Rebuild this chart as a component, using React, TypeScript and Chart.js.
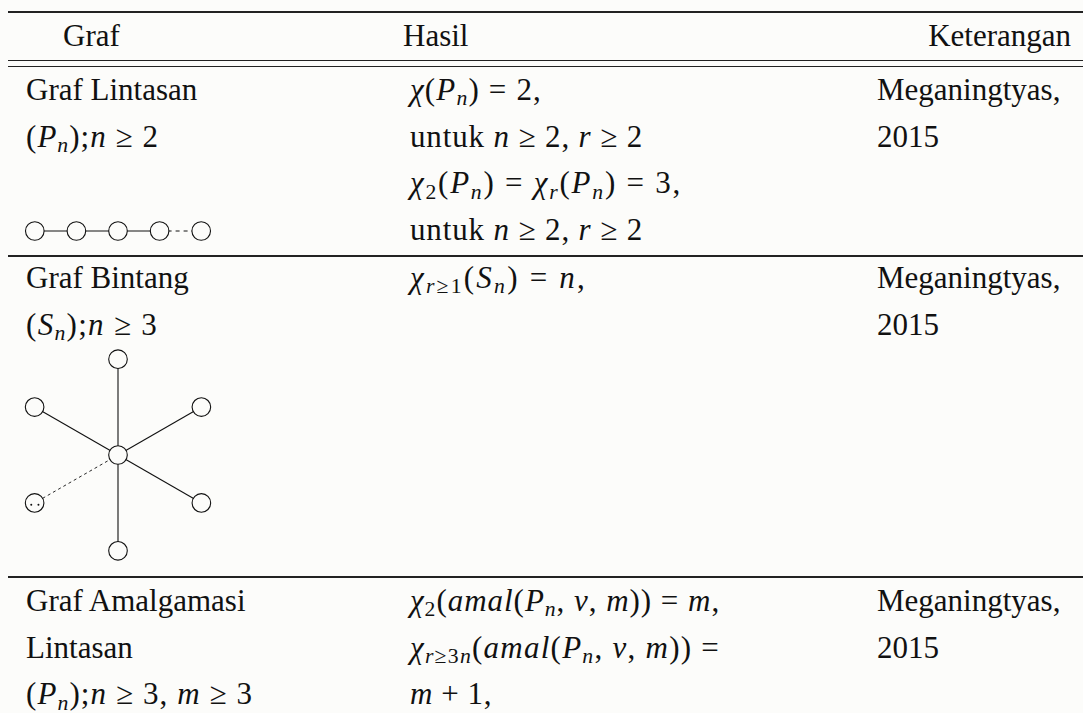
import React, { useEffect, useLayoutEffect, useRef } from 'react';
import { Chart, registerables } from 'chart.js';

Chart.register(...registerables);

// ---------- data ----------
const headerLabels = ['Graf', 'Hasil', 'Keterangan'];

type Seg = [string, string?];
type Line = Seg[];

const grafColumn: Line[][] = [
  [
    [['Graf Lintasan']],
    [['('], ['P', 'i'], ['n', 'si'], [');'], ['n', 'i'], [' ≥ 2']],
  ],
  [
    [['Graf Bintang']],
    [['('], ['S', 'i'], ['n', 'si'], [');'], ['n', 'i'], [' ≥ 3']],
  ],
  [
    [['Graf Amalgamasi']],
    [['Lintasan']],
    [['('], ['P', 'i'], ['n', 'si'], [');'], ['n', 'i'], [' ≥ 3, '], ['m', 'i'], [' ≥ 3']],
  ],
];

const hasilColumn: Line[][] = [
  [
    [['χ', 'i'], ['('], ['P', 'i'], ['n', 'si'], [') = 2,']],
    [['untuk '], ['n', 'i'], [' ≥ 2, '], ['r', 'i'], [' ≥ 2']],
    [['χ', 'i'], ['2', 'sr'], ['('], ['P', 'i'], ['n', 'si'], [') = '], ['χ', 'i'], ['r', 'si'], ['('], ['P', 'i'], ['n', 'si'], [') = 3,']],
    [['untuk '], ['n', 'i'], [' ≥ 2, '], ['r', 'i'], [' ≥ 2']],
  ],
  [
    [['χ', 'i'], ['r', 'si'], ['≥1', 'sr'], ['('], ['S', 'i'], ['n', 'si'], [') = '], ['n', 'i'], [',']],
  ],
  [
    [['χ', 'i'], ['2', 'sr'], ['('], ['amal', 'i'], ['('], ['P', 'i'], ['n', 'si'], [', '], ['v', 'i'], [', '], ['m', 'i'], [')) = '], ['m', 'i'], [',']],
    [['χ', 'i'], ['r', 'si'], ['≥3', 'sr'], ['n', 'si'], ['('], ['amal', 'i'], ['('], ['P', 'i'], ['n', 'si'], [', '], ['v', 'i'], [', '], ['m', 'i'], [')) =']],
    [['m', 'i'], [' + 1,']],
  ],
];

const keteranganColumn: Line[][] = [
  [[['Meganingtyas,']], [['2015']]],
  [[['Meganingtyas,']], [['2015']]],
  [[['Meganingtyas,']], [['2015']]],
];

// path graph P_n (graph units)
const pathNodeX = [1, 2, 3, 4, 5];
const pathNodeY = [0, 0, 0, 0, 0];
const pathEdgeDashed = [false, false, false, true];

// star graph S_n (graph units)
const starCenterX = 0;
const starCenterY = 0;
const starLeafX = [0, -0.87, 0.87, 0.87, 0, -0.87];
const starLeafY = [1, 0.5, 0.5, -0.5, -1, -0.5];
const starLeafDotted = [false, false, false, false, false, true];
const ellipsisDotX = [-0.905, -0.83];
const ellipsisDotY = [-0.52, -0.52];

// ---------- layout ----------
const FONT = '"Liberation Serif", "Times New Roman", serif';
const FS = 31;
const ASC = 26;
const BG = '#fcfcfa';
const INK = '#111';

const headerBaseline = 46;
const headerX = [63, 403];
const headerRight = 12;
const rowBaselines = [
  [100, 146.7, 193.3, 240],
  [288, 334.7],
  [611, 657.7, 704.3],
];
const colX = [26, 410, 877];
const ruleYs = [12, 60, 66, 256, 577];
const ruleW = [1.4, 1, 1, 1.2, 1.4];
// right ends of the math lines (TeX math is set wider than the fallback font)
const lineEnds: Record<string, number> = {
  '0-0-1': 159,
  '0-1-1': 158,
  '0-2-2': 253,
  '1-0-0': 542,
  '1-0-1': 643,
  '1-0-2': 682,
  '1-0-3': 643,
  '1-1-0': 587,
  '1-2-0': 720,
  '1-2-1': 720,
  '1-2-2': 492,
};

function Segs({ segs }: { segs: Line }) {
  return (
    <>
      {segs.map(([t, k], i) => {
        const kind = k || '';
        const italic = kind.includes('i');
        const sub = kind.startsWith('s');
        const style: React.CSSProperties = {
          fontStyle: italic ? 'italic' : 'normal',
        };
        if (sub) {
          style.fontSize = '0.7em';
          style.position = 'relative';
          style.top = '0.24em';
        }
        return (
          <span key={i} style={style}>
            {t}
          </span>
        );
      })}
    </>
  );
}

function TextLine({ x, baseline, segs, right, endX }: { x?: number; baseline: number; segs: Line; right?: number; endX?: number }) {
  const ref = useRef<HTMLDivElement>(null);
  useLayoutEffect(() => {
    const el = ref.current;
    if (!el || endX === undefined || x === undefined) return;
    const fit = () => {
      el.style.letterSpacing = '0px';
      const w = el.getBoundingClientRect().width;
      const n = (el.textContent || '').length;
      const ls = Math.max(0, (endX - x - w) / n);
      el.style.letterSpacing = ls + 'px';
    };
    fit();
    if ((document as any).fonts && (document as any).fonts.ready) {
      (document as any).fonts.ready.then(fit);
    }
  }, []);
  const style: React.CSSProperties = {
    position: 'absolute',
    top: baseline - ASC,
    lineHeight: FS + 'px',
    whiteSpace: 'pre',
  };
  if (right !== undefined) style.right = right;
  else style.left = x;
  return (
    <div ref={ref} style={style}>
      <Segs segs={segs} />
    </div>
  );
}

function ChartBox({ left, top, width, height, makeConfig }: { left: number; top: number; width: number; height: number; makeConfig: () => any }) {
  const ref = useRef<HTMLCanvasElement>(null);
  useEffect(() => {
    if (!ref.current) return;
    const chart = new Chart(ref.current, makeConfig());
    return () => chart.destroy();
  }, []);
  return (
    <canvas
      ref={ref}
      width={width}
      height={height}
      style={{ position: 'absolute', left, top, width, height }}
    />
  );
}

const baseOptions = (xmin: number, xmax: number, ymin: number, ymax: number) => ({
  animation: false,
  responsive: false,
  maintainAspectRatio: false,
  layout: { padding: 0, autoPadding: false },
  events: [],
  plugins: { legend: { display: false }, tooltip: { enabled: false } },
  scales: {
    x: { type: 'linear', display: false, min: xmin, max: xmax },
    y: { type: 'linear', display: false, min: ymin, max: ymax },
  },
});

const pathConfig = () => ({
  type: 'scatter',
  data: {
    datasets: [
      {
        data: pathNodeX.map((x, i) => ({ x, y: pathNodeY[i] })),
        showLine: true,
        clip: false,
        borderColor: INK,
        borderWidth: 1.1,
        pointRadius: 9.3,
        pointBackgroundColor: BG,
        pointBorderColor: INK,
        pointBorderWidth: 1.1,
        tension: 0,
        fill: false,
        segment: {
          borderDash: (ctx: any) => (pathEdgeDashed[ctx.p0DataIndex] ? [4, 4] : undefined),
        },
      },
    ],
  },
  options: baseOptions(0.5, 5.5, -2, 2),
});

const starConfig = () => ({
  type: 'scatter',
  data: {
    datasets: [
      {
        type: 'scatter',
        order: 0,
        clip: false,
        data: ellipsisDotX.map((x, i) => ({ x, y: ellipsisDotY[i] })),
        pointRadius: 1,
        pointBackgroundColor: INK,
        pointBorderWidth: 0,
      },
      {
        type: 'scatter',
        order: 1,
        clip: false,
        data: [{ x: starCenterX, y: starCenterY }, ...starLeafX.map((x, i) => ({ x, y: starLeafY[i] }))],
        pointRadius: 9.3,
        pointBackgroundColor: BG,
        pointBorderColor: INK,
        pointBorderWidth: 1.1,
      },
      ...starLeafX.map((x, i) => ({
        type: 'scatter',
        showLine: true,
        order: 2,
        clip: false,
        data: [
          { x: starCenterX, y: starCenterY },
          { x, y: starLeafY[i] },
        ],
        borderColor: INK,
        borderWidth: starLeafDotted[i] ? 0.9 : 1.1,
        borderDash: starLeafDotted[i] ? [3, 3] : [],
        pointRadius: 0,
        fill: false,
        tension: 0,
      })),
    ],
  },
  options: baseOptions(-1.2, 1.2, -1.2, 1.2),
});

export default function App() {
  return (
    <div
      style={{
        position: 'absolute',
        left: 0,
        top: 0,
        width: 1083,
        height: 713,
        overflow: 'hidden',
        background: BG,
        fontFamily: FONT,
        fontSize: FS,
        color: INK,
      }}
    >
      {ruleYs.map((y, i) => (
        <div
          key={'r' + i}
          style={{ position: 'absolute', left: 8, top: y - ruleW[i] / 2, width: 1075, height: ruleW[i], background: '#222' }}
        />
      ))}

      <TextLine x={headerX[0]} baseline={headerBaseline} segs={[[headerLabels[0]]]} />
      <TextLine x={headerX[1]} baseline={headerBaseline} segs={[[headerLabels[1]]]} />
      <TextLine right={headerRight} baseline={headerBaseline} segs={[[headerLabels[2]]]} />

      {[grafColumn, hasilColumn, keteranganColumn].map((col, c) =>
        col.map((rowLines, r) =>
          rowLines.map((segs, l) => (
            <TextLine
              key={`${c}-${r}-${l}`}
              x={colX[c]}
              baseline={rowBaselines[r][l]}
              segs={segs}
              endX={lineEnds[`${c}-${r}-${l}`]}
            />
          ))
        )
      )}

      <ChartBox left={14.2} top={200.7} width={208} height={60} makeConfig={pathConfig} />
      <ChartBox left={3.3} top={340} width={230} height={230} makeConfig={starConfig} />
    </div>
  );
}
